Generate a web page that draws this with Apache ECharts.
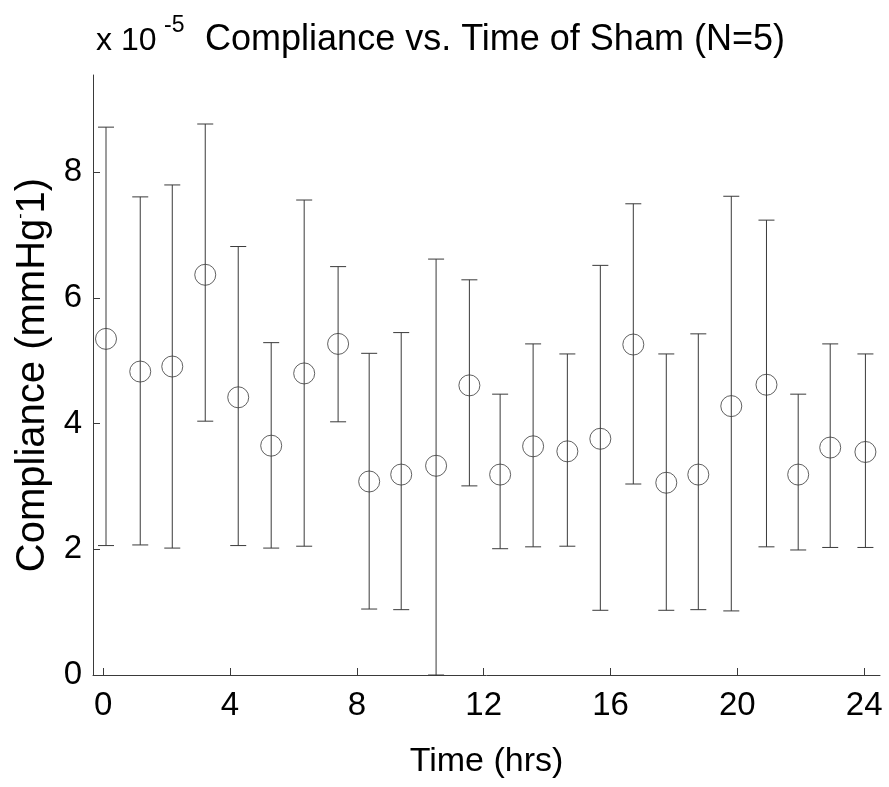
<!DOCTYPE html>
<html>
<head>
<meta charset="utf-8">
<script src="https://cdn.jsdelivr.net/npm/echarts@6/dist/echarts.min.js"></script>
<style>
html,body{margin:0;padding:0;background:#fff;}
#chart{width:889px;height:787px;}
</style>
</head>
<body>
<div id="chart"></div>
<script>
// Time (hrs)
var times = [0.09,1.17,2.18,3.22,4.26,5.30,6.34,7.41,8.39,9.40,10.50,11.55,12.52,13.56,14.64,15.68,16.72,17.76,18.77,19.81,20.92,21.92,22.93,24.04];
// Compliance mean (x 1e-5 mmHg^-1)
var means = [5.35,4.83,4.91,6.37,4.42,3.65,4.80,5.27,3.08,3.19,3.33,4.61,3.19,3.64,3.56,3.76,5.26,3.06,3.19,4.28,4.62,3.19,3.62,3.55];
// Error bar upper ends
var upper = [8.72,7.61,7.80,8.77,6.82,5.29,7.56,6.50,5.12,5.45,6.62,6.29,4.47,5.27,5.11,6.52,7.50,5.11,5.43,7.62,7.24,4.47,5.27,5.11];
// Error bar lower ends
var lower = [2.06,2.07,2.02,4.04,2.06,2.02,2.05,4.03,1.05,1.04,0.00,3.01,2.01,2.04,2.05,1.03,3.04,1.03,1.04,1.02,2.04,1.99,2.03,2.03];
// Tick labels
var xTicks = [0,4,8,12,16,20,24];
var yTicks = [0,2,4,6,8];

var FONT = '"Liberation Sans", Arial, Helvetica, sans-serif';
var LINE = '#3a3a3a';

var pointData = times.map(function(t,i){ return [t, means[i]]; });
var barData = times.map(function(t,i){ return [t, lower[i], upper[i]]; });

var chart = echarts.init(document.getElementById('chart'));
chart.setOption({
  backgroundColor: '#fff',
  animation: false,
  title: {
    text: 'Compliance vs. Time of Sham (N=5)',
    left: 490,
    top: 17,
    textAlign: 'center',
    textStyle: { fontFamily: FONT, fontSize: 36, fontWeight: 'normal', color: '#000', lineHeight: 36 }
  },
  graphic: [
    { type: 'text', left: 96, top: 25, style: { text: 'x 10', fontFamily: FONT, fontSize: 32, fill: '#000' } },
    { type: 'text', left: 164, top: 14, style: { text: '-5', fontFamily: FONT, fontSize: 23, fill: '#000' } }
  ],
  grid: { left: 93, right: 9, top: 75, bottom: 112, containLabel: false },
  xAxis: {
    type: 'value',
    min: -0.32,
    max: 24.5,
    name: 'Time (hrs)',
    nameLocation: 'middle',
    nameGap: 70,
    nameTextStyle: { fontFamily: FONT, fontSize: 34, color: '#000' },
    axisLine: { show: true, onZero: false, lineStyle: { color: LINE, width: 1 } },
    axisTick: { show: true, inside: true, length: 7, customValues: xTicks, lineStyle: { color: LINE } },
    axisLabel: { customValues: xTicks, fontFamily: FONT, fontSize: 33, color: '#000', margin: 14 },
    splitLine: { show: false }
  },
  yAxis: {
    type: 'value',
    min: 0,
    max: 9.55,
    name: 'Compliance (mmHg{s|-}1)',
    nameLocation: 'middle',
    nameGap: 40,
    nameTextStyle: { fontFamily: FONT, fontSize: 40, color: '#000',
      rich: { s: { fontFamily: FONT, fontSize: 16, color: '#000', verticalAlign: 'top', padding: [0,0,21,0] } } },
    axisLine: { show: true, onZero: false, lineStyle: { color: LINE, width: 1 } },
    axisTick: { show: true, inside: true, length: 7, customValues: yTicks, lineStyle: { color: LINE } },
    axisLabel: { customValues: yTicks, fontFamily: FONT, fontSize: 33, color: '#000', margin: 11 },
    splitLine: { show: false }
  },
  series: [
    {
      type: 'custom',
      data: barData,
      renderItem: function(params, api){
        var x = api.value(0);
        var lo = api.coord([x, api.value(1)]);
        var hi = api.coord([x, api.value(2)]);
        var hw = 8;
        var st = { stroke: LINE, lineWidth: 1 };
        return {
          type: 'group',
          children: [
            { type: 'line', shape: { x1: hi[0], y1: hi[1], x2: lo[0], y2: lo[1] }, style: st },
            { type: 'line', shape: { x1: hi[0]-hw, y1: hi[1], x2: hi[0]+hw, y2: hi[1] }, style: st },
            { type: 'line', shape: { x1: lo[0]-hw, y1: lo[1], x2: lo[0]+hw, y2: lo[1] }, style: st }
          ]
        };
      },
      z: 2
    },
    {
      type: 'scatter',
      data: pointData,
      symbol: 'circle',
      symbolSize: 21,
      itemStyle: { color: 'rgba(0,0,0,0)', borderColor: LINE, borderWidth: 1 },
      z: 3
    }
  ]
});
</script>
</body>
</html>
